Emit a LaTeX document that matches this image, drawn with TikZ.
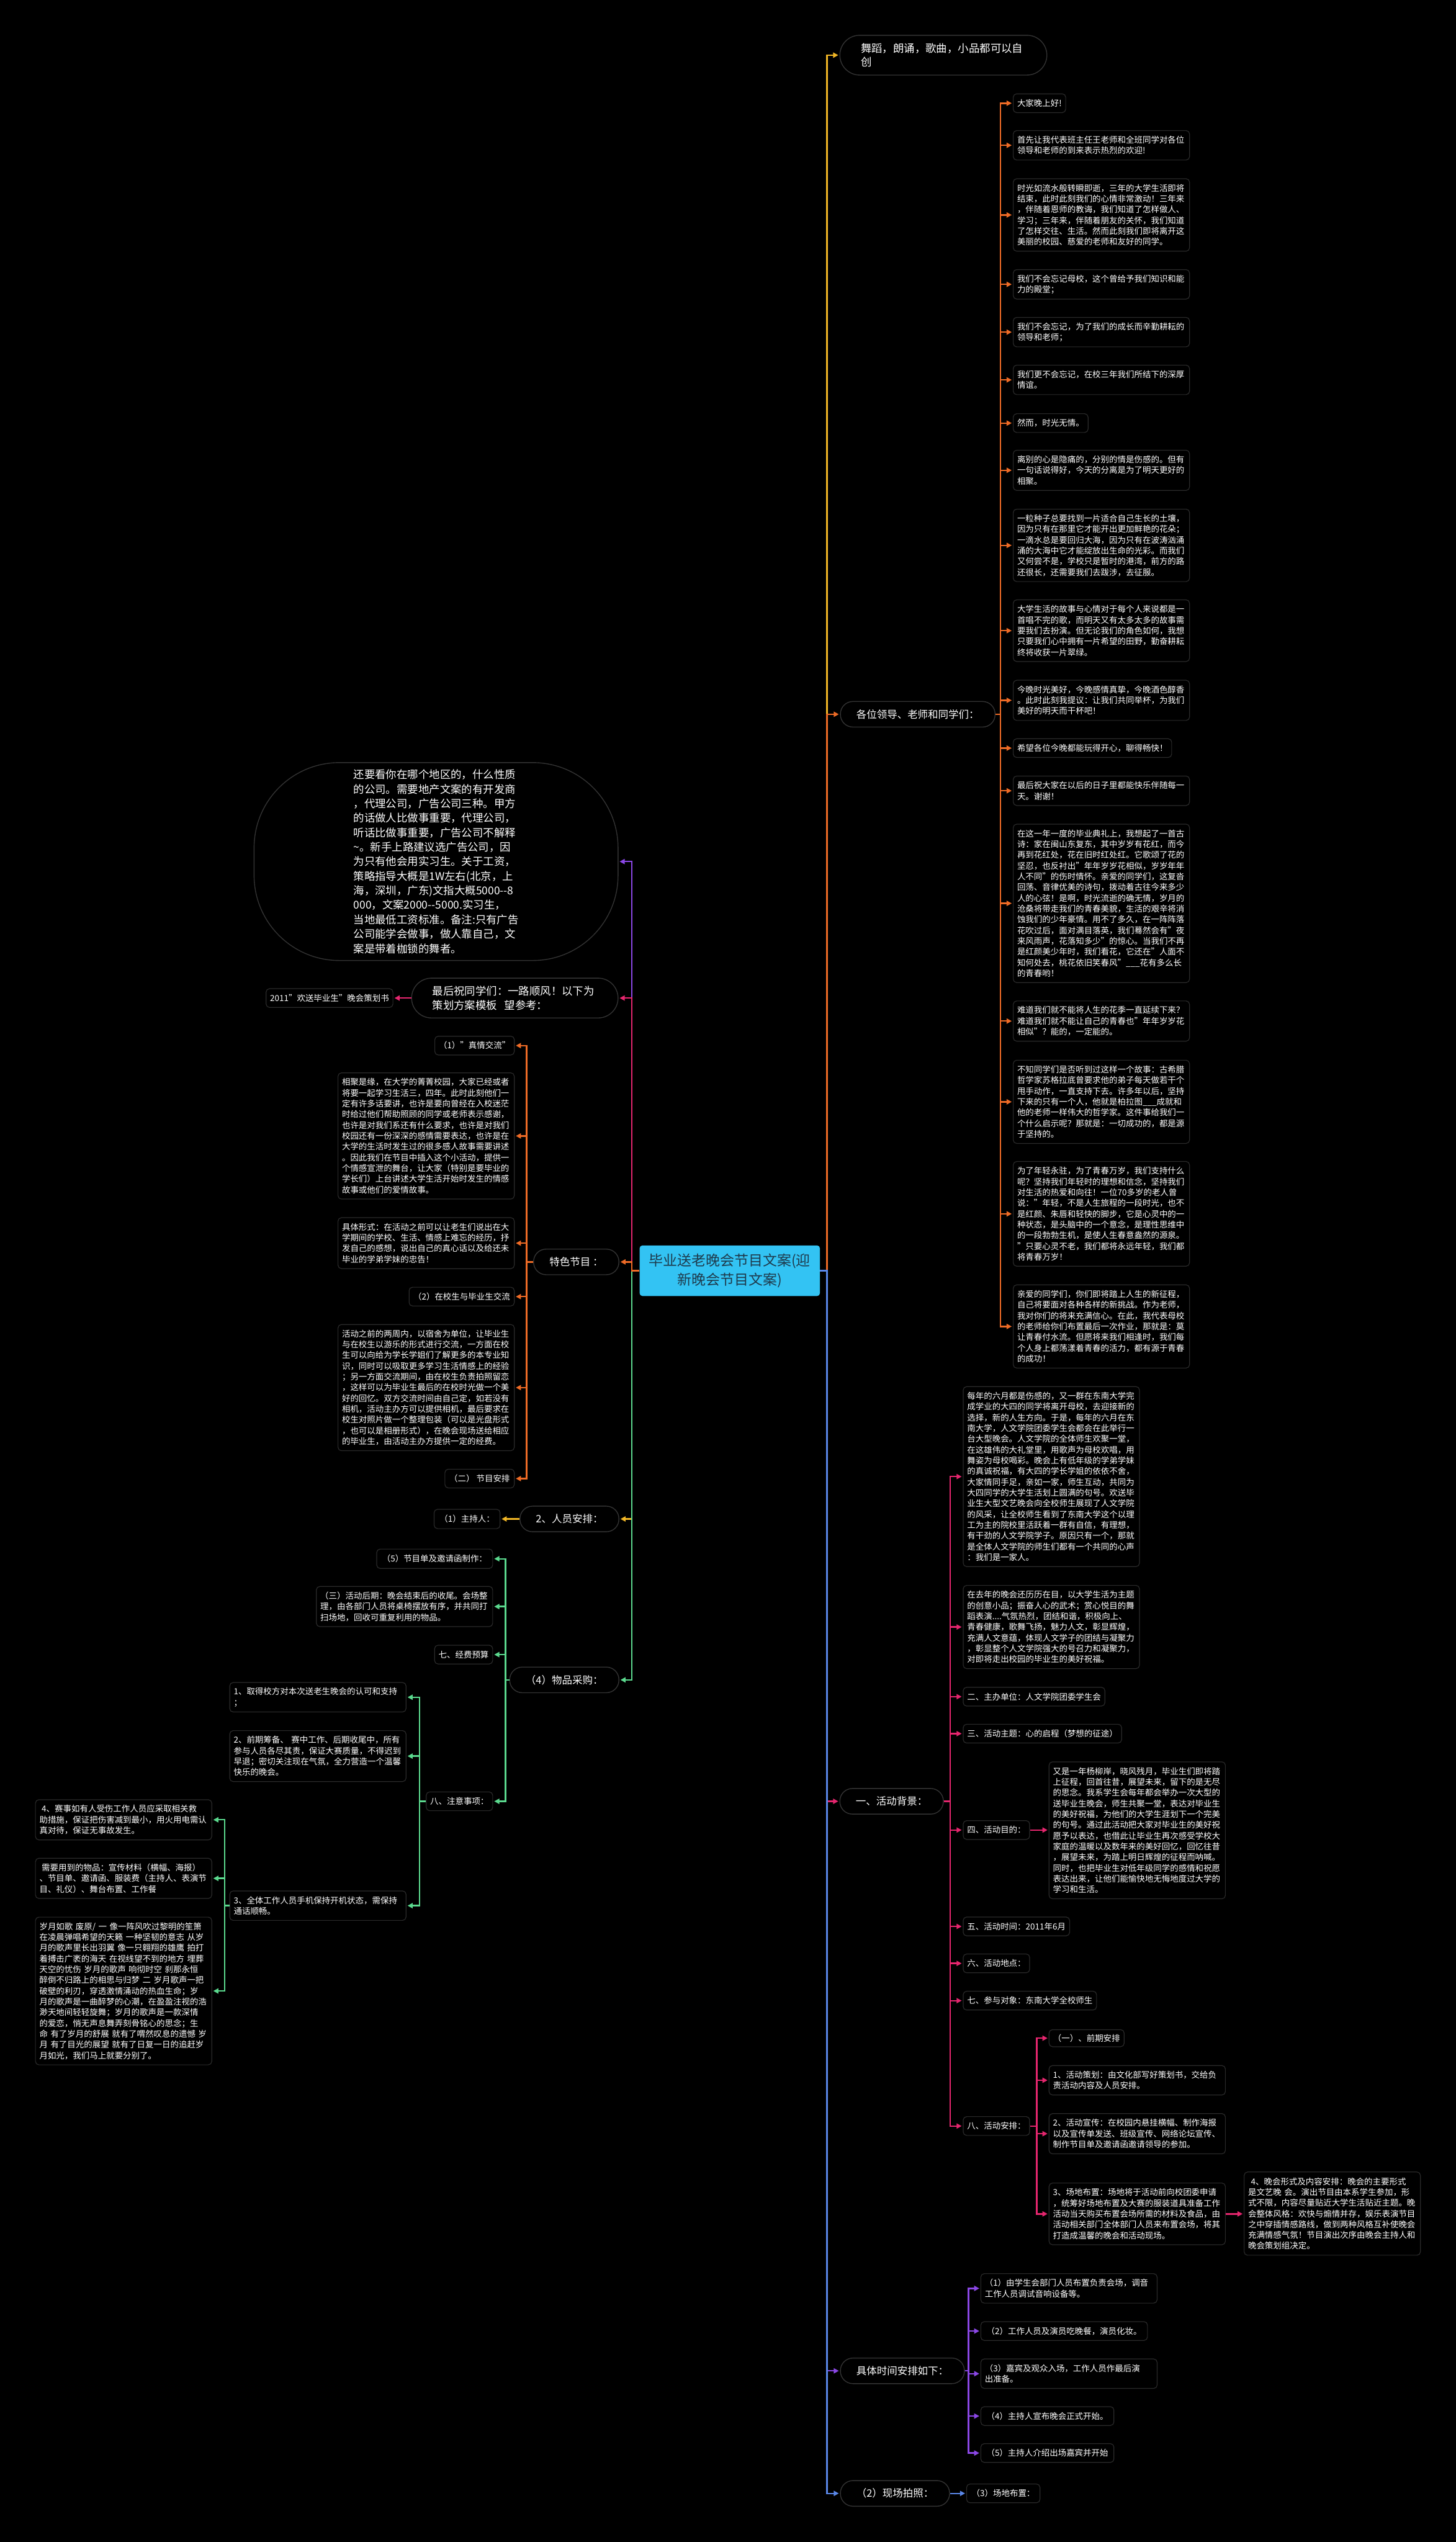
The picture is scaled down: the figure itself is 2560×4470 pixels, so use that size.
\documentclass[tikz,border=0pt]{standalone}
\usepackage{fontspec}
\setmainfont{Noto Sans CJK SC}
\usetikzlibrary{arrows.meta}
\definecolor{cYel}{HTML}{F2B726}
\definecolor{cOra}{HTML}{EE6B26}
\definecolor{cPink}{HTML}{E5266E}
\definecolor{cBlue}{HTML}{5A87E8}
\definecolor{cPur}{HTML}{8B47E6}
\definecolor{cGreen}{HTML}{5BD98E}
\definecolor{boxline}{HTML}{2A2A2A}
\definecolor{lvline}{HTML}{333333}
\definecolor{rootfill}{HTML}{33C3F3}
\definecolor{roottext}{HTML}{1E3A4C}
\tikzset{
 myleaf/.style={draw=boxline, line width=1.3pt, fill=black, rounded corners=6pt, text=white,
   font=\fontsize{14.7}{18.9}\selectfont, inner xsep=7pt, inner ysep=5pt, minimum height=33pt},
 mypara/.style={myleaf, text width=296pt, align=left},
 mylvl/.style={draw=lvline, line width=1.5pt, fill=black, rounded corners=22pt, text=white,
   font=\fontsize{18}{24}\selectfont, inner xsep=28pt, minimum height=45pt},
 myconn/.style={line width=2.6pt, -{Triangle[length=9pt,width=9pt]}, shorten >=2pt},
 ln2/.style={minimum height=51.8pt}, ln3/.style={minimum height=70.7pt},
 ln4/.style={minimum height=89.6pt}, ln5/.style={minimum height=108.5pt},
 ln6/.style={minimum height=127.4pt}, ln7/.style={minimum height=146.3pt},
 ln9/.style={minimum height=184.1pt}, ln11/.style={minimum height=221.9pt},
 ln12/.style={minimum height=240.8pt}, ln13/.style={minimum height=259.7pt},
 ln14/.style={minimum height=278.6pt}, ln16/.style={minimum height=316.4pt},
}
\begin{document}
\begin{tikzpicture}[x=1pt,y=-1pt]
\fill[black] (0,0) rectangle (2560,4470);
\useasboundingbox (0,0) rectangle (2560,4470);

% root
\node[fill=rootfill, rounded corners=5pt, text=roottext, font=\fontsize{25}{34}\selectfont,
  align=center, minimum width=317pt, minimum height=89pt, anchor=west] (root) at (1124.5,2234.5)
  {毕业送老晚会节目文案(迎\\新晚会节目文案)};

% vertical guide coordinates
\coordinate (vR) at (1454,0);
\coordinate (vL) at (1111,0);
\coordinate (vO) at (1759,0);
\coordinate (vP) at (1671,0);
\coordinate (vP8) at (1823,0);
\coordinate (vB) at (1703,0);
\coordinate (vT) at (926,0);
\coordinate (vG) at (889,0);
\coordinate (vN) at (737.6,0);
\coordinate (vM) at (395,0);

% ===== right first level =====
\node[mylvl, rounded corners=35pt, font=\fontsize{19}{25}\selectfont, text width=290pt, align=left,
  inner xsep=37pt, minimum height=70pt, anchor=west] (wudao) at (1476,97)
  {舞蹈，朗诵，歌曲，小品都可以自\\创};
\node[mylvl, anchor=west] (gwld) at (1477,1256) {各位领导、老师和同学们：};
\node[mylvl, anchor=west] (hdbj) at (1476,3167.5) {一、活动背景：};
\node[mylvl, anchor=west] (jtsj) at (1477,4169) {具体时间安排如下：};
\node[mylvl, anchor=west] (xcpz) at (1477,4384.5) {（2）现场拍照：};

% ===== orange leaves =====
\node[myleaf, anchor=west] (o1) at (1781,181.5) {大家晚上好!};
\node[mypara, ln2, anchor=west] (o2) at (1781,255.5) {首先让我代表班主任王老师和全班同学对各位\\领导和老师的到来表示热烈的欢迎!};
\node[mypara, ln6, anchor=west] (o3) at (1781,378) {时光如流水般转瞬即逝，三年的大学生活即将\\结束，此时此刻我们的心情非常激动！三年来\\，伴随着恩师的教诲，我们知道了怎样做人、\\学习；三年来，伴随着朋友的关怀，我们知道\\了怎样交往、生活。然而此刻我们即将离开这\\美丽的校园、慈爱的老师和友好的同学。};
\node[mypara, ln2, anchor=west] (o4) at (1781,500) {我们不会忘记母校，这个曾给予我们知识和能\\力的殿堂；};
\node[mypara, ln2, anchor=west] (o5) at (1781,584) {我们不会忘记，为了我们的成长而辛勤耕耘的\\领导和老师；};
\node[mypara, ln2, anchor=west] (o6) at (1781,668) {我们更不会忘记，在校三年我们所结下的深厚\\情谊。};
\node[myleaf, anchor=west] (o7) at (1781,744) {然而，时光无情。};
\node[mypara, ln3, anchor=west] (o8) at (1781,827) {离别的心是隐痛的，分别的情是伤感的。但有\\一句话说得好，今天的分离是为了明天更好的\\相聚。};
\node[mypara, ln6, anchor=west] (o9) at (1781,959) {一粒种子总要找到一片适合自己生长的土壤，\\因为只有在那里它才能开出更加鲜艳的花朵；\\一滴水总是要回归大海，因为只有在波涛汹涌\\涌的大海中它才能绽放出生命的光彩。而我们\\又何尝不是，学校只是暂时的港湾，前方的路\\还很长，还需要我们去跋涉，去征服。};
\node[mypara, ln5, anchor=west] (o10) at (1781,1109) {大学生活的故事与心情对于每个人来说都是一\\首唱不完的歌，而明天又有太多太多的故事需\\要我们去扮演。但无论我们的角色如何，我想\\只要我们心中拥有一片希望的田野，勤奋耕耘\\终将收获一片翠绿。};
\node[mypara, ln3, anchor=west] (o11) at (1781,1231.5) {今晚时光美好，今晚感情真挚，今晚酒色醇香\\。此时此刻我提议：让我们共同举杯，为我们\\美好的明天而干杯吧！};
\node[myleaf, anchor=west] (o12) at (1781,1315.5) {希望各位今晚都能玩得开心，聊得畅快！};
\node[mypara, ln2, anchor=west] (o13) at (1781,1390.5) {最后祝大家在以后的日子里都能快乐伴随每一\\天。谢谢！};
\node[mypara, ln14, anchor=west] (o14) at (1781,1588.5) {在这一年一度的毕业典礼上，我想起了一首古\\诗：家在闽山东复东，其中岁岁有花红，而今\\再到花红处，花在旧时红处红。它歌颂了花的\\坚忍，也反衬出"年年岁岁花相似，岁岁年年\\人不同"的伤时情怀。亲爱的同学们，这复沓\\回荡、音律优美的诗句，拨动着古往今来多少\\人的心弦！是啊，时光流逝的确无情，岁月的\\沧桑将带走我们的青春美貌，生活的艰辛将消\\蚀我们的少年豪情。用不了多久，在一阵阵落\\花吹过后，面对满目落英，我们蓦然会有"夜\\来风雨声，花落知多少"的惊心。当我们不再\\是红颜美少年时，我们看花，它还在"人面不\\知何处去，桃花依旧笑春风"\_\_\_花有多么长\\的青春哟！};
\node[mypara, ln3, anchor=west] (o15) at (1781,1795.5) {难道我们就不能将人生的花季一直延续下来？\\难道我们就不能让自己的青春也"年年岁岁花\\相似"？能的，一定能的。};
\node[mypara, ln7, anchor=west] (o16) at (1781,1937.5) {不知同学们是否听到过这样一个故事：古希腊\\哲学家苏格拉底曾要求他的弟子每天做若干个\\甩手动作，一直支持下去。许多年以后，坚持\\下来的只有一个人，他就是柏拉图\_\_\_成就和\\他的老师一样伟大的哲学家。这件事给我们一\\个什么启示呢？那就是：一切成功的，都是源\\于坚持的。};
\node[mypara, ln9, anchor=west] (o17) at (1781,2134.5) {为了年轻永驻，为了青春万岁，我们支持什么\\呢？坚持我们年轻时的理想和信念，坚持我们\\对生活的热爱和向往！一位70多岁的老人曾\\说："年轻，不是人生旅程的一段时光，也不\\是红颜、朱唇和轻快的脚步，它是心灵中的一\\种状态，是头脑中的一个意念，是理性思维中\\的一段勃勃生机，是使人生春意盎然的源泉。\\"只要心灵不老，我们都将永远年轻，我们都\\将青春万岁！};
\node[mypara, ln7, anchor=west] (o18) at (1781,2332.5) {亲爱的同学们，你们即将踏上人生的新征程，\\自己将要面对各种各样的新挑战。作为老师，\\我对你们的将来充满信心。在此，我代表母校\\的老师给你们布置最后一次作业，那就是：莫\\让青春付水流。但愿将来我们相逢时，我们每\\个人身上都荡漾着青春的活力，都有源于青春\\的成功！};

% ===== pink leaves =====
\node[mypara, ln16, anchor=west] (p1) at (1693,2596.5) {每年的六月都是伤感的，又一群在东南大学完\\成学业的大四的同学将离开母校，去迎接新的\\选择，新的人生方向。于是，每年的六月在东\\南大学，人文学院团委学生会都会在此举行一\\台大型晚会。人文学院的全体师生欢聚一堂，\\在这雄伟的大礼堂里，用歌声为母校欢唱，用\\舞姿为母校喝彩。晚会上有低年级的学弟学妹\\的真诚祝福，有大四的学长学姐的依依不舍，\\大家情同手足，亲如一家，师生互动，共同为\\大四同学的大学生活划上圆满的句号。欢送毕\\业生大型文艺晚会向全校师生展现了人文学院\\的风采，让全校师生看到了东南大学这个以理\\工为主的院校里活跃着一群有自信，有理想，\\有干劲的人文学院学子。原因只有一个，那就\\是全体人文学院的师生们都有一个共同的心声\\：我们是一家人。};
\node[mypara, ln7, anchor=west] (p2) at (1693,2861) {在去年的晚会还历历在目，以大学生活为主题\\的创意小品；振奋人心的武术；赏心悦目的舞\\蹈表演....气氛热烈，团结和谐，积极向上、\\青春健康，歌舞飞扬，魅力人文，彰显辉煌，\\充满人文意蕴，体现人文学子的团结与凝聚力\\，彰显整个人文学院强大的号召力和凝聚力，\\对即将走出校园的毕业生的美好祝福。};
\node[myleaf, anchor=west] (p3) at (1693,2983.5) {二、主办单位：人文学院团委学生会};
\node[myleaf, anchor=west] (p4) at (1693,3048.5) {三、活动主题：心的启程（梦想的征途）};
\node[myleaf, anchor=west] (p5) at (1693,3218) {四、活动目的：};
\node[mypara, ln12, anchor=west] (p5a) at (1844,3218.5) {又是一年杨柳岸，晓风残月，毕业生们即将踏\\上征程，回首往昔，展望未来，留下的是无尽\\的思念。我系学生会每年都会举办一次大型的\\送毕业生晚会，师生共聚一堂，表达对毕业生\\的美好祝福，为他们的大学生涯划下一个完美\\的句号。通过此活动把大家对毕业生的美好祝\\愿予以表达，也借此让毕业生再次感受学校大\\家庭的温暖以及数年来的美好回忆，回忆往昔\\，展望未来，为踏上明日辉煌的征程而呐喊。\\同时，也把毕业生对低年级同学的感情和祝愿\\表达出来，让他们能愉快地无悔地度过大学的\\学习和生活。};
\node[myleaf, anchor=west] (p6) at (1693,3387.5) {五、活动时间：2011年6月};
\node[myleaf, anchor=west] (p7) at (1693,3452.5) {六、活动地点：};
\node[myleaf, anchor=west] (p8) at (1693,3518) {七、参与对象：东南大学全校师生};
\node[myleaf, anchor=west] (p9) at (1693,3738.5) {八、活动安排：};
\node[myleaf, anchor=west, minimum height=30pt, minimum width=132pt] (p9a) at (1844,3584) {（一）、前期安排};
\node[mypara, ln2, anchor=west] (p9b) at (1844,3658) {1、活动策划：由文化部写好策划书，交给负\\责活动内容及人员安排。};
\node[mypara, ln3, anchor=west] (p9c) at (1844,3752) {2、活动宣传：在校园内悬挂横幅、制作海报\\以及宣传单发送、班级宣传、网络论坛宣传、\\制作节目单及邀请函邀请领导的参加。};
\node[mypara, ln5, anchor=west] (p9d) at (1844,3893) {3、场地布置：场地将于活动前向校团委申请\\，统筹好场地布置及大赛的服装道具准备工作\\活动当天购买布置会场所需的材料及食品，由\\活动相关部门全体部门人员来布置会场，将其\\打造成温馨的晚会和活动现场。};
\node[mypara, ln7, anchor=west] (p9e) at (2187,3892.5) {\hspace*{5pt}4、晚会形式及内容安排：晚会的主要形式\\是文艺晚 会。演出节目由本系学生参加，形\\式不限，内容尽量贴近大学生活贴近主题。晚\\会整体风格：欢快与煽情并存，娱乐表演节目\\之中穿插情感路线，做到两种风格互补使晚会\\充满情感气氛！节目演出次序由晚会主持人和\\晚会策划组决定。};

% ===== purple / blue leaves =====
\node[mypara, ln2, anchor=west] (b1) at (1724,4024) {（1）由学生会部门人员布置负责会场，调音\\工作人员调试音响设备等。};
\node[myleaf, anchor=west, minimum width=293pt] (b2) at (1724,4099) {（2）工作人员及演员吃晚餐，演员化妆。};
\node[mypara, ln2, anchor=west] (b3) at (1724,4174) {（3）嘉宾及观众入场，工作人员作最后演\\出准备。};
\node[myleaf, anchor=west, minimum width=234pt] (b4) at (1724,4248.5) {（4）主持人宣布晚会正式开始。};
\node[myleaf, anchor=west, minimum width=234pt] (b5) at (1724,4313.5) {（5）主持人介绍出场嘉宾并开始};
\node[myleaf, anchor=west, minimum width=129pt] (b7) at (1699,4384.5) {（3）场地布置：};

% ===== left first level =====
\node[draw=lvline, line width=1.5pt, fill=black, rounded corners=150pt, text=white,
  font=\fontsize{19}{25.5}\selectfont, text width=290pt, align=left,
  minimum width=640pt, minimum height=348pt, anchor=east] (topn) at (1087.5,1515)
  {还要看你在哪个地区的，什么性质\\的公司。需要地产文案的有开发商\\，代理公司，广告公司三种。甲方\\的话做人比做事重要，代理公司，\\听话比做事重要，广告公司不解释\\\textasciitilde。新手上路建议选广告公司，因\\为只有他会用实习生。关于工资，\\策略指导大概是1W左右(北京，上\\海，深圳，广东)文指大概5000-{}-8\\000，文案2000-{}-5000.实习生，\\当地最低工资标准。备注:只有广告\\公司能学会做事，做人靠自己，文\\案是带着枷锁的舞者。};
\node[mylvl, rounded corners=35pt, font=\fontsize{19}{25}\selectfont, text width=290pt, align=left,
  inner xsep=36.5pt, minimum height=70pt, anchor=east] (zuihou) at (1087.5,1755)
  {最后祝同学们：一路顺风！以下为\\策划方案模板\ \ 望参考：};
\node[mylvl, anchor=east] (tese) at (1089,2219) {特色节目 ：};
\node[mylvl, anchor=east] (ryap) at (1089,2671) {2、人员安排：};
\node[mylvl, anchor=east] (wpcg) at (1089,2954) {（4）物品采购：};

\node[myleaf, anchor=east, minimum width=214pt] (c2011) at (691.6,1755) {2011"欢送毕业生"晚会策划书};

% ===== orange left leaves =====
\node[myleaf, anchor=east, minimum width=128pt] (t1) at (905,1838.6) {（1）"真情交流"};
\node[mypara, ln11, anchor=east] (t2) at (905,1997.5) {相聚是缘，在大学的菁菁校园，大家已经或者\\将要一起学习生活三，四年。此时此刻他们一\\定有许多话要讲，也许是要向曾经在入校迷茫\\时给过他们帮助照顾的同学或老师表示感谢，\\也许是对我们系还有什么要求，也许是对我们\\校园还有一份深深的感情需要表达，也许是在\\大学的生活时发生过的很多感人故事需要讲述\\。因此我们在节目中插入这个小活动，提供一\\个情感宣泄的舞台，让大家（特别是要毕业的\\学长们）上台讲述大学生活开始时发生的情感\\故事或他们的爱情故事。};
\node[mypara, ln4, anchor=east] (t3) at (905,2186) {具体形式：在活动之前可以让老生们说出在大\\学期间的学校、生活、情感上难忘的经历，抒\\发自己的感想，说出自己的真心话以及给还未\\毕业的学弟学妹的忠告！};
\node[myleaf, anchor=east, minimum width=185pt] (t4) at (905,2280) {（2）在校生与毕业生交流};
\node[mypara, ln11, anchor=east] (t5) at (905,2440) {活动之前的两周内，以宿舍为单位，让毕业生\\与在校生以游乐的形式进行交流，一方面在校\\生可以向给为学长学姐们了解更多的本专业知\\识，同时可以吸取更多学习生活情感上的经验\\；另一方面交流期间，由在校生负责拍照留恋\\，这样可以为毕业生最后的在校时光做一个美\\好的回忆。双方交流时间由自己定，如若没有\\相机，活动主办方可以提供相机，最后要求在\\校生对照片做一个整理包装（可以是光盘形式\\，也可以是相册形式），在晚会现场送给相应\\的毕业生，由活动主办方提供一定的经费。};
\node[myleaf, anchor=east, minimum width=122pt] (t6) at (905,2600) {（二）\ 节目安排};

% ===== yellow / green left leaves =====
\node[myleaf, anchor=east, minimum width=116pt, minimum height=34pt] (zcr) at (880,2671) {（1）主持人：};
\node[myleaf, anchor=east, minimum width=204pt, minimum height=34pt] (g1) at (867,2741) {（5）节目单及邀请函制作：};
\node[mypara, ln3, anchor=east] (g2) at (867,2825) {（三）活动后期：晚会结束后的收尾。会场整\\理，由各部门人员将桌椅摆放有序，并共同打\\扫场地，回收可重复利用的物品。};
\node[myleaf, anchor=east] (g3) at (867,2909.5) {七、经费预算};
\node[myleaf, anchor=east] (g4) at (867,3167.5) {八、注意事项：};
\node[mypara, ln2, anchor=east] (n1) at (714.6,2984.5) {1、取得校方对本次送老生晚会的认可和支持\\；};
\node[mypara, ln4, anchor=east] (n2) at (714.6,3088) {2、前期筹备、 赛中工作、后期收尾中，所有\\参与人员各尽其责，保证大赛质量，不得迟到\\早退；密切关注现在气氛，全力营造一个温馨\\快乐的晚会。};
\node[mypara, ln2, anchor=east] (n3) at (714.6,3351) {3、全体工作人员手机保持开机状态，需保持\\通话顺畅。};
\node[mypara, ln3, anchor=east] (m1) at (373,3200) {\hspace*{4pt}4、赛事如有人受伤工作人员应采取相关救\\助措施，保证把伤害减到最小，用火用电需认\\真对待，保证无事故发生。};
\node[mypara, ln3, anchor=east] (m2) at (373,3303) {\hspace*{4pt}需要用到的物品：宣传材料（横幅、海报）\\、节目单、邀请函、服装费（主持人、表演节\\目、礼仪）、舞台布置、工作餐};
\node[mypara, ln13, anchor=east] (m3) at (373,3501) {岁月如歌 废原/ 一 像一阵风吹过黎明的笙箫\\在凌晨弹唱希望的天籁 一种坚韧的意志 从岁\\月的歌声里长出羽翼 像一只翱翔的雄鹰 拍打\\着搏击广袤的海天 在视线望不到的地方 埋葬\\天空的忧伤 岁月的歌声 响彻时空 刹那永恒\\醉倒不归路上的相思与归梦 二 岁月歌声一把\\破壁的利刃，穿透激情涌动的热血生命；岁\\月的歌声是一曲醉梦的心潮，在盈盈注视的浩\\渺天地间轻轻旋舞；岁月的歌声是一款深情\\的爱恋，悄无声息舞弄刻骨铭心的思念；生\\命 有了岁月的舒展 就有了喟然叹息的遗憾 岁\\月 有了目光的展望 就有了日复一日的追赶岁\\月如光，我们马上就要分别了。};

% ===== connectors: root right =====
\draw[myconn, cYel] (root.east) -- (root.east -| vR) |- (wudao.west);
\draw[myconn, cOra] (root.east) -- (root.east -| vR) |- (gwld.west);
\draw[myconn, cPink] (root.east) -- (root.east -| vR) |- (hdbj.west);
\draw[myconn, cPur] (root.east) -- (root.east -| vR) |- (jtsj.west);
\draw[myconn, cBlue] (root.east) -- (root.east -| vR) |- (xcpz.west);
% root left
\draw[myconn, cPur] (root.west) -- (root.west -| vL) |- (topn.east);
\draw[myconn, cPink] (root.west) -- (root.west -| vL) |- (zuihou.east);
\draw[myconn, cYel] (root.west) -- (root.west -| vL) |- (ryap.east);
\draw[myconn, cGreen] (root.west) -- (root.west -| vL) |- (wpcg.east);
\draw[myconn, cOra] (root.west) -- (root.west -| vL) |- (tese.east);

% orange right
\foreach \c in {o1,o2,o3,o4,o5,o6,o7,o8,o9,o10,o11,o12,o13,o14,o15,o16,o17,o18}
  \draw[myconn, cOra] (gwld.east) -- (gwld.east -| vO) |- (\c.west);
% pink right
\foreach \c in {p1,p2,p3,p4,p5,p6,p7,p8,p9}
  \draw[myconn, cPink] (hdbj.east) -- (hdbj.east -| vP) |- (\c.west);
\draw[myconn, cPink] (p5.east) -- (p5.east -| p5a.west);
\foreach \c in {p9a,p9b,p9c,p9d}
  \draw[myconn, cPink] (p9.east) -- (p9.east -| vP8) |- (\c.west);
\draw[myconn, cPink] (p9d.east) -- (p9d.east -| p9e.west);
% purple / blue right
\foreach \c in {b1,b2,b3,b4,b5}
  \draw[myconn, cPur] (jtsj.east) -- (jtsj.east -| vB) |- (\c.west);
\draw[myconn, cBlue] (xcpz.east) -- (xcpz.east -| b7.west);

% left branches
\draw[myconn, cPink] (zuihou.west) -- (zuihou.west -| c2011.east);
\foreach \c in {t1,t2,t3,t4,t5,t6}
  \draw[myconn, cOra] (tese.west) -- (tese.west -| vT) |- (\c.east);
\draw[myconn, cYel] (ryap.west) -- (ryap.west -| zcr.east);
\foreach \c in {g1,g2,g3,g4}
  \draw[myconn, cGreen] (wpcg.west) -- (wpcg.west -| vG) |- (\c.east);
\foreach \c in {n1,n2,n3}
  \draw[myconn, cGreen] (g4.west) -- (g4.west -| vN) |- (\c.east);
\foreach \c in {m1,m2,m3}
  \draw[myconn, cGreen] (n3.west) -- (n3.west -| vM) |- (\c.east);
\end{tikzpicture}
\end{document}
